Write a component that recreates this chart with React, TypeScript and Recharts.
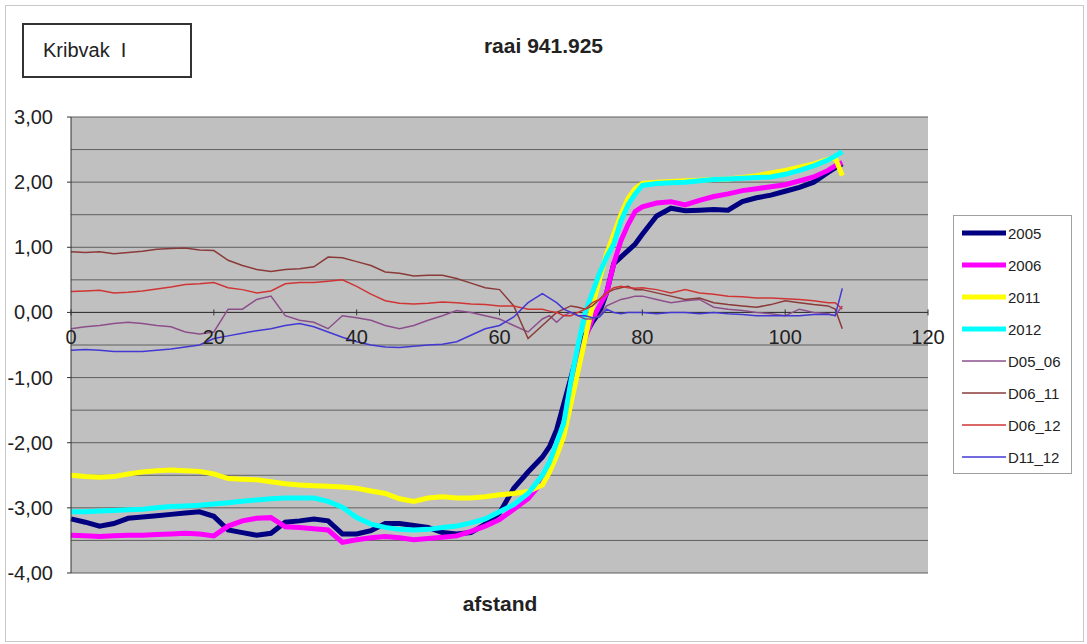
import { LineChart, Line, XAxis, YAxis, CartesianGrid, ReferenceLine, Legend } from 'recharts';

// afstand (m) along the raai
const afstand = [
  0, 2, 4, 6, 8, 10, 12, 14, 16, 18, 20, 22, 24, 26, 28, 30, 32, 34, 36, 38, 40, 42, 44, 46, 48, 50, 52, 54, 56, 58, 60, 62, 64, 66,
  67, 68, 69, 70, 71, 72, 73, 74, 75, 76, 77, 78, 79, 80,
  82, 84, 86, 88, 90, 92, 94, 96, 98, 100, 102, 104, 106,
  107, 108,
];

const h2005 = [
  -3.17, -3.22, -3.28, -3.24, -3.16, -3.14, -3.12, -3.1, -3.08, -3.06, -3.13, -3.34, -3.38, -3.42, -3.39, -3.22, -3.2, -3.17, -3.2, -3.4, -3.4, -3.35, -3.24, -3.24, -3.27, -3.3, -3.38, -3.4, -3.38, -3.25, -3.08, -2.7, -2.45, -2.22,
  -2.06, -1.8, -1.4, -1.0, -0.6, -0.35, -0.15, 0.0, 0.3, 0.75, 0.85, 0.95, 1.05, 1.2,
  1.48, 1.6, 1.56, 1.57, 1.58, 1.57, 1.7, 1.76, 1.8, 1.86, 1.92, 2.0, 2.15,
  2.22, 2.28,
];

const h2006 = [
  -3.42, -3.43, -3.44, -3.43, -3.42, -3.42, -3.41, -3.4, -3.39, -3.4, -3.43, -3.28, -3.2, -3.16, -3.15, -3.29, -3.3, -3.32, -3.34, -3.53, -3.49, -3.46, -3.44, -3.46, -3.49, -3.47, -3.45, -3.43, -3.36, -3.28, -3.18, -3.02, -2.86, -2.6,
  -2.4, -2.1, -1.75, -1.25, -0.8, -0.4, -0.1, 0.1, 0.3, 0.75, 1.1, 1.35, 1.55, 1.62,
  1.68, 1.7, 1.65, 1.72, 1.78, 1.82, 1.87, 1.9, 1.93, 1.96, 2.02, 2.08, 2.18,
  2.25, 2.3,
];

const h2011 = [
  -2.5, -2.52, -2.53, -2.52, -2.48, -2.45, -2.43, -2.42, -2.43, -2.44, -2.48, -2.55, -2.56, -2.57, -2.6, -2.63, -2.65, -2.66, -2.67, -2.68, -2.7, -2.74, -2.78, -2.86, -2.9, -2.85, -2.83, -2.85, -2.85, -2.83, -2.8, -2.78, -2.75, -2.65,
  -2.45, -2.2, -1.9, -1.4, -0.9, -0.4, 0.1, 0.5, 0.9, 1.2, 1.5, 1.75, 1.9, 1.98,
  2.0, 2.01, 2.02, 2.03, 2.04, 2.05, 2.07, 2.1, 2.14, 2.18, 2.23, 2.28, 2.35,
  2.38, 2.1,
];

const h2012 = [
  -3.06, -3.06, -3.05, -3.04, -3.03, -3.02, -3.0, -2.98, -2.97, -2.96, -2.94, -2.92, -2.9, -2.88, -2.86, -2.85, -2.85, -2.85, -2.9, -2.99, -3.15, -3.25, -3.3, -3.33, -3.34, -3.33, -3.3, -3.28, -3.23, -3.17, -3.06, -2.95, -2.78, -2.5,
  -2.3, -2.0, -1.7, -1.05, -0.5, 0.0, 0.3, 0.6, 0.85, 1.05, 1.4, 1.65, 1.82, 1.95,
  1.98, 1.99, 2.0, 2.02, 2.04, 2.05, 2.06, 2.07, 2.08, 2.12, 2.18, 2.25, 2.34,
  2.4, 2.47,
];

const d05_06 = [
  -0.25, -0.22, -0.2, -0.17, -0.15, -0.17, -0.2, -0.22, -0.3, -0.33, -0.3, 0.05, 0.05, 0.2, 0.25, -0.05, -0.12, -0.15, -0.25, -0.05, -0.08, -0.12, -0.2, -0.25, -0.2, -0.12, -0.05, 0.03, 0.0, -0.05, -0.1, -0.2, -0.3, -0.1,
  -0.05, -0.15, -0.05, 0.0, -0.05, -0.1, -0.1, -0.05, 0.1, 0.15, 0.2, 0.22, 0.25, 0.25,
  0.2, 0.15, 0.18, 0.2, 0.08, 0.05, 0.03, 0.0, -0.02, -0.05, 0.05, 0.0, -0.02,
  -0.05, 0.1,
];

const d06_11 = [
  0.93, 0.92, 0.93, 0.9, 0.92, 0.94, 0.97, 0.98, 0.99, 0.96, 0.95, 0.8, 0.72, 0.66, 0.63, 0.66, 0.67, 0.7, 0.85, 0.84, 0.78, 0.72, 0.62, 0.6, 0.56, 0.57, 0.57, 0.52, 0.45, 0.38, 0.35, 0.1, -0.4, -0.2,
  -0.1, 0.0, 0.05, 0.1, 0.08, 0.05, 0.1, 0.2, 0.3, 0.35, 0.38, 0.4, 0.35, 0.35,
  0.3, 0.25, 0.2, 0.22, 0.15, 0.12, 0.1, 0.08, 0.12, 0.18, 0.15, 0.12, 0.1,
  0.05, -0.25,
];

const d06_12 = [
  0.32, 0.33, 0.34, 0.3, 0.31, 0.33, 0.36, 0.39, 0.43, 0.44, 0.46, 0.38, 0.35, 0.3, 0.33, 0.44, 0.46, 0.46, 0.48, 0.5, 0.4, 0.28, 0.18, 0.14, 0.13, 0.14, 0.16, 0.15, 0.13, 0.12, 0.1, 0.1, 0.05, 0.05,
  0.02, 0.0, -0.05, -0.05, 0.0, 0.05, 0.15, 0.2, 0.3, 0.38, 0.4, 0.38, 0.37, 0.38,
  0.35, 0.3, 0.35, 0.3, 0.28, 0.25, 0.24, 0.22, 0.22, 0.21, 0.2, 0.18, 0.15,
  0.15, 0.05,
];

const d11_12 = [
  -0.58, -0.57, -0.58, -0.6, -0.6, -0.6, -0.58, -0.56, -0.53, -0.5, -0.4, -0.36, -0.32, -0.28, -0.25, -0.2, -0.17, -0.22, -0.3, -0.38, -0.45, -0.5, -0.53, -0.54, -0.52, -0.5, -0.49, -0.45, -0.35, -0.25, -0.2, -0.07, 0.15, 0.29,
  0.22, 0.15, 0.05, 0.0, -0.05, -0.05, -0.08, -0.07, 0.05, 0.0, -0.02, 0.0, 0.0, 0.0,
  -0.02, 0.0, 0.0, -0.02, 0.0, -0.02, -0.03, -0.05, -0.05, -0.05, -0.05, -0.03, -0.03,
  -0.05, 0.37,
];

const xTicks = [0, 20, 40, 60, 80, 100, 120];
const yTicks = [-4, -3.5, -3, -2.5, -2, -1.5, -1, -0.5, 0, 0.5, 1, 1.5, 2, 2.5, 3];

const series = [
  { key: '2005', values: h2005, color: '#000080', width: 5 },
  { key: '2006', values: h2006, color: '#ff00ff', width: 5 },
  { key: '2011', values: h2011, color: '#ffff00', width: 5 },
  { key: '2012', values: h2012, color: '#00ffff', width: 5 },
  { key: 'D05_06', values: d05_06, color: '#8c4f8c', width: 1.5 },
  { key: 'D06_11', values: d06_11, color: '#8b3a3a', width: 1.5 },
  { key: 'D06_12', values: d06_12, color: '#d03535', width: 1.5 },
  { key: 'D11_12', values: d11_12, color: '#4338d4', width: 1.5 },
];

const data = afstand.map((x, i) => {
  const row: Record<string, number> = { afstand: x };
  series.forEach((s) => {
    row[s.key] = s.values[i];
  });
  return row;
});

const W = 1087;
const H = 644;
const PLOT_LEFT = 71;
const PLOT_TOP = 117;
const PLOT_BOTTOM = 573;
const Y_MIN = -4;
const Y_MAX = 3;
const ZERO_Y = PLOT_TOP + ((PLOT_BOTTOM - PLOT_TOP) * Y_MAX) / (Y_MAX - Y_MIN);
const FONT = '"Liberation Sans", Arial, Helvetica, sans-serif';

function YTick({ y, payload }: any) {
  const v = payload.value as number;
  if (!Number.isInteger(v)) return <g />;
  return (
    <g>
      <line x1={PLOT_LEFT - 4} x2={PLOT_LEFT} y1={y} y2={y} stroke="#333" />
      <text x={PLOT_LEFT - 18} y={y + 7} textAnchor="end" fontSize={20} fill="#222" fontFamily={FONT}>
        {v.toFixed(2).replace('.', ',')}
      </text>
    </g>
  );
}

// x labels sit on the zero line, like the Excel original
function XTick({ x, payload }: any) {
  return (
    <g>
      <line x1={x} x2={x} y1={ZERO_Y - 3} y2={ZERO_Y + 3} stroke="#333" />
      <text x={x} y={ZERO_Y + 32} textAnchor="middle" fontSize={20} fill="#222" fontFamily={FONT}>
        {payload.value}
      </text>
    </g>
  );
}

function LegendBox({ payload }: any) {
  return (
    <div
      style={{
        border: '1px solid #a0a0a0',
        background: '#fff',
        padding: '1px 4px 0 8px',
        width: 119,
        boxSizing: 'border-box',
        fontFamily: FONT,
      }}
    >
      {(payload || []).map((item: any) => {
        const def = series.find((s) => s.key === item.dataKey);
        return (
          <div key={item.value} style={{ display: 'flex', alignItems: 'center', height: 32 }}>
            <svg width={44} height={10}>
              <line x1={0} x2={44} y1={5} y2={5} stroke={item.color} strokeWidth={def ? def.width : 2} />
            </svg>
            <span style={{ fontSize: 15, color: '#222', marginLeft: 2 }}>{item.value}</span>
          </div>
        );
      })}
    </div>
  );
}

export default function App() {
  return (
    <div style={{ position: 'absolute', left: 0, top: 0, width: W, height: H, background: '#fff', fontFamily: FONT }}>
      <div
        style={{
          position: 'absolute',
          left: 5,
          top: 5,
          width: 1077,
          height: 635,
          border: '1px solid #c8c8c8',
        }}
      />
      <LineChart
        width={W}
        height={H}
        data={data}
        margin={{ top: PLOT_TOP, right: W - 928, bottom: H - PLOT_BOTTOM - 1, left: PLOT_LEFT - 60 }}
      >
        <CartesianGrid vertical={false} fill="#c0c0c0" stroke="#5f5f5f" fillOpacity={1} />
        <XAxis
          dataKey="afstand"
          type="number"
          domain={[0, 120]}
          ticks={xTicks}
          height={1}
          axisLine={false}
          tickLine={false}
          tick={<XTick />}
          interval={0}
        />
        <YAxis
          type="number"
          domain={[Y_MIN, Y_MAX]}
          ticks={yTicks}
          width={60}
          interval={0}
          axisLine={{ stroke: '#333' }}
          tickLine={false}
          tick={<YTick />}
        />
        <ReferenceLine y={0} stroke="#333" />
        <Legend
          layout="vertical"
          align="center"
          verticalAlign="middle"
          content={<LegendBox />}
          wrapperStyle={{ left: 953, top: 215, width: 119 }}
        />
        {series.map((s) => (
          <Line
            key={s.key}
            type="linear"
            dataKey={s.key}
            name={s.key}
            stroke={s.color}
            strokeWidth={s.width}
            dot={false}
            activeDot={false}
            isAnimationActive={false}
          />
        ))}
      </LineChart>
      <div
        style={{
          position: 'absolute',
          left: 22,
          top: 23,
          width: 170,
          height: 55,
          border: '2px solid #333',
          boxSizing: 'border-box',
          paddingLeft: 19,
          lineHeight: '50px',
          fontSize: 20,
          color: '#222',
          background: '#fff',
        }}
      >
        Kribvak{'\u00a0\u00a0'}I
      </div>
      <div
        style={{
          position: 'absolute',
          left: 0,
          top: 34,
          width: W,
          textAlign: 'center',
          fontSize: 21,
          fontWeight: 'bold',
          color: '#222',
        }}
      >
        raai 941.925
      </div>
      <div
        style={{
          position: 'absolute',
          left: 400,
          top: 592,
          width: 200,
          textAlign: 'center',
          fontSize: 21,
          fontWeight: 'bold',
          color: '#222',
        }}
      >
        afstand
      </div>
    </div>
  );
}
